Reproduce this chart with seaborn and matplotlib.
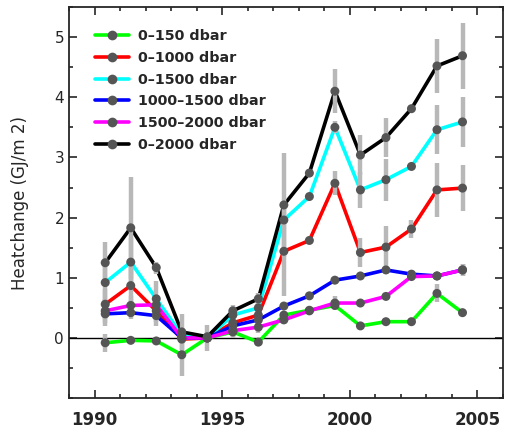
import numpy as np
import pandas as pd
import matplotlib
matplotlib.use("Agg")
import matplotlib.pyplot as plt
import seaborn as sns
from matplotlib.ticker import MultipleLocator
from matplotlib.lines import Line2D

sns.set_style("ticks")
plt.rcParams['font.family'] = ['DejaVu Sans']

years = [1990, 1991, 1992, 1993, 1994, 1995, 1996, 1997, 1998, 1999, 2000, 2001, 2002, 2003, 2004]
labels = ["0\u2013150 dbar", "0\u20131000 dbar", "0\u20131500 dbar",
          "1000\u20131500 dbar", "1500\u20132000 dbar", "0\u20132000 dbar"]
colors = ["#00ff00", "#ff0000", "#00ffff", "#0000ff", "#ff00ff", "#000000"]

v_0_150 = [-0.08, -0.04, -0.05, -0.28, 0.0, 0.1, -0.07, 0.38, 0.46, 0.54, 0.2, 0.27, 0.27, 0.74, 0.42]
v_0_1000 = [0.56, 0.87, 0.45, -0.02, 0.0, 0.25, 0.38, 1.44, 1.62, 2.57, 1.42, 1.51, 1.81, 2.46, 2.49]
v_0_1500 = [0.92, 1.26, 0.65, 0.05, 0.0, 0.38, 0.5, 1.96, 2.35, 3.5, 2.46, 2.63, 2.85, 3.46, 3.59]
v_1000_1500 = [0.4, 0.42, 0.37, 0.0, 0.0, 0.2, 0.3, 0.53, 0.7, 0.96, 1.03, 1.13, 1.06, 1.03, 1.13]
v_1500_2000 = [0.45, 0.54, 0.55, 0.0, 0.0, 0.12, 0.18, 0.3, 0.45, 0.58, 0.58, 0.69, 1.02, 1.03, 1.13]
v_0_2000 = [1.25, 1.83, 1.17, 0.1, 0.02, 0.45, 0.65, 2.21, 2.74, 4.1, 3.04, 3.33, 3.81, 4.52, 4.69]

e_0_150 = [0.15, 0.05, 0.05, 0.35, 0.22, 0.1, 0.06, 0, 0, 0, 0, 0, 0, 0.15, 0]
e_0_1000 = [0.25, 0.35, 0.25, 0.0, 0.0, 0.1, 0.1, 0.75, 0.0, 0.2, 0.24, 0.35, 0.15, 0.45, 0.38]
e_0_1500 = [0.3, 0.4, 0.3, 0.0, 0.0, 0.1, 0.1, 0.0, 0.0, 0.1, 0.3, 0.35, 0.0, 0.41, 0.42]
e_1000_1500 = [0.2, 0.1, 0.1, 0, 0, 0.1, 0.1, 0, 0, 0, 0, 0, 0, 0, 0.1]
e_1500_2000 = [0.2, 0.15, 0.15, 0, 0, 0.1, 0.1, 0, 0, 0.12, 0, 0, 0, 0, 0.1]
e_0_2000 = [0.35, 0.85, 0.1, 0.3, 0.0, 0.1, 0.1, 0.87, 0.0, 0.37, 0.33, 0.33, 0.0, 0.45, 0.55]

values = [v_0_150, v_0_1000, v_0_1500, v_1000_1500, v_1500_2000, v_0_2000]
errors = [e_0_150, e_0_1000, e_0_1500, e_1000_1500, e_1500_2000, e_0_2000]

xpos = np.array(years) + 0.42
rows = []
for lab, vals, errs in zip(labels, values, errors):
    for x, v, e in zip(xpos, vals, errs):
        rows.append({"year": x, "heat": v, "err": e, "series": lab})
df = pd.DataFrame(rows)

fig = plt.figure(figsize=(5.11, 4.37), dpi=100)
ax = fig.add_axes([0.135, 0.089, 0.849, 0.895])

ax.axhline(0, color="black", lw=1.0, zorder=1)

sns.lineplot(data=df, x="year", y="heat", hue="series", hue_order=labels,
             palette=colors, lw=2.6, ax=ax, legend=False, zorder=2,
             estimator=None, sort=False)

# gray error bars
for lab in labels:
    sub = df[(df.series == lab) & (df.err > 0)]
    ax.vlines(sub.year, sub.heat - sub.err, sub.heat + sub.err,
              color="#b8b8b8", lw=3.2, zorder=3)

sns.scatterplot(data=df, x="year", y="heat", color="#555555", s=42,
                marker="o", edgecolor="none", ax=ax, zorder=4, legend=False)

ax.set_xlim(1989, 2006)
ax.set_ylim(-1, 5.5)
ax.xaxis.set_major_locator(MultipleLocator(5))
ax.xaxis.set_minor_locator(MultipleLocator(1))
ax.yaxis.set_major_locator(MultipleLocator(1))
ax.yaxis.set_minor_locator(MultipleLocator(0.5))
ax.set_yticks([0, 1, 2, 3, 4, 5])
ax.tick_params(which="both", direction="in", top=True, right=True, width=1.2)
ax.tick_params(which="major", length=6)
ax.tick_params(which="minor", length=3)
ax.tick_params(axis="x", labelsize=12, pad=9)
ax.tick_params(axis="y", labelsize=11)
for t in ax.get_xticklabels():
    t.set_fontweight("bold")
for s in ax.spines.values():
    s.set_linewidth(1.3)

ax.set_xlabel("")
ax.set_ylabel("Heatchange (GJ/m 2)", fontsize=12, labelpad=18)

handles = [Line2D([0], [0], color=c, lw=2.6, marker="o", markersize=7,
                  markerfacecolor="#555555", markeredgecolor="none")
           for c in colors]
ax.legend(handles, labels, loc="upper left", bbox_to_anchor=(0.03, 0.976),
          frameon=False, handlelength=2.4, handletextpad=0.6,
          labelspacing=0.54, prop={"weight": "bold", "size": 10.3})

fig.savefig("out.png", dpi=100)
